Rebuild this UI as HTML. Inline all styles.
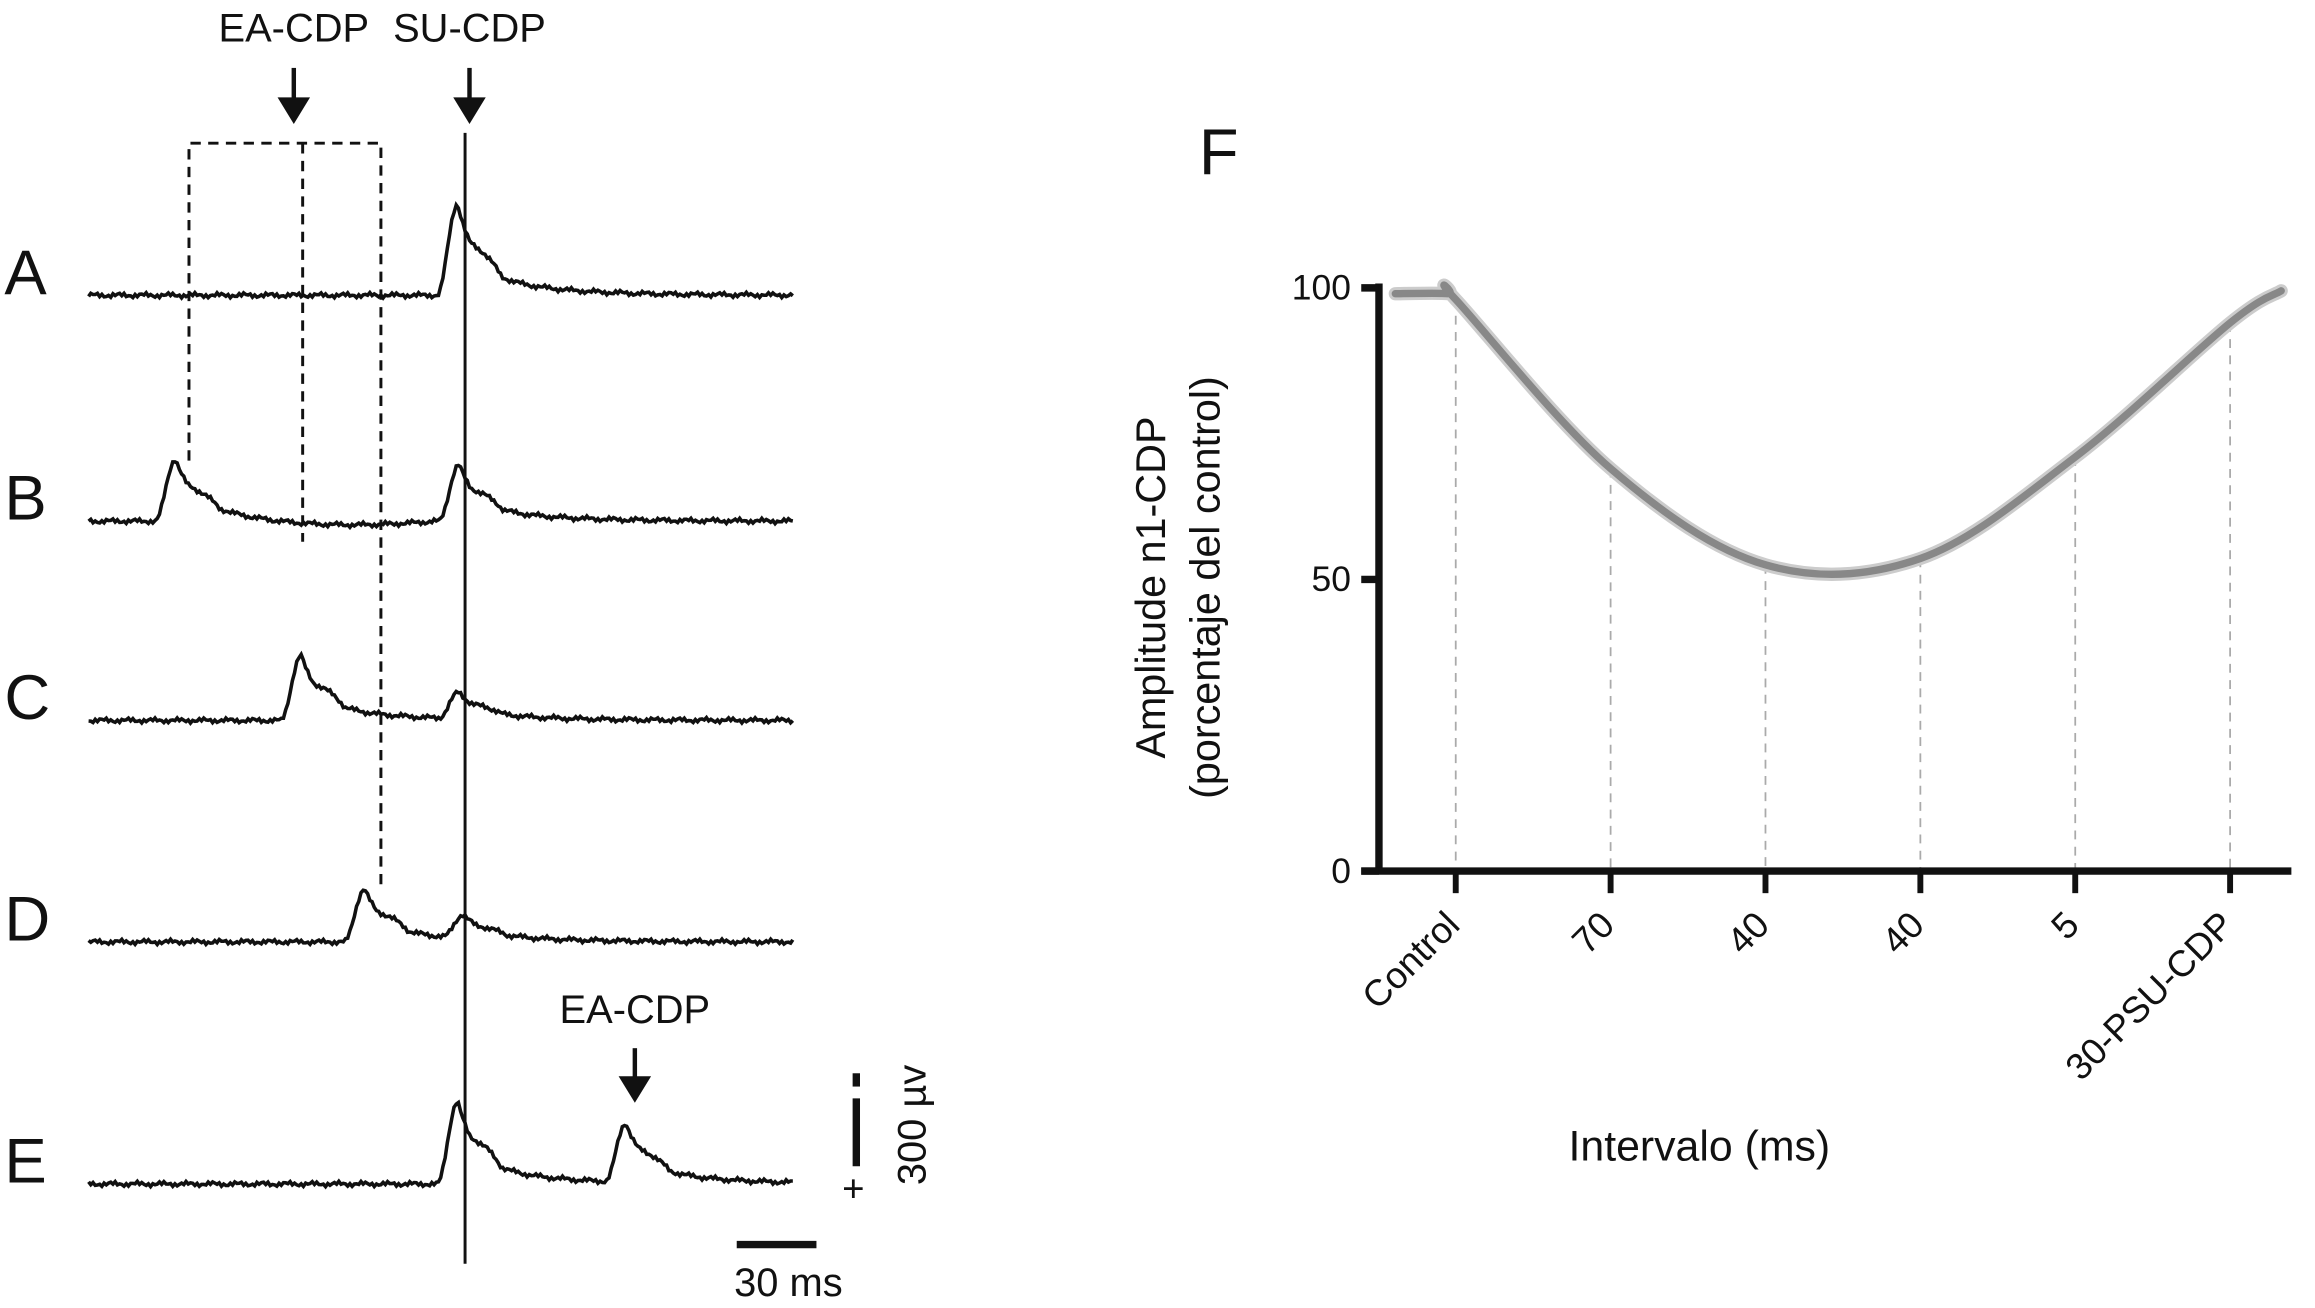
<!DOCTYPE html>
<html><head><meta charset="utf-8"><style>
html,body{margin:0;padding:0;background:#fff;}
svg{display:block;}
text{font-family:"Liberation Sans",sans-serif;fill:#111;}
</style></head><body>
<svg id="fig" width="2315" height="1308" viewBox="0 0 1568 886" preserveAspectRatio="none">
<g id="left"></g>
<g id="right"></g>
</svg>
<script>
// ---- left panel data (trace peaks: x position, peak height px) ----
const traceLabels = ["A","B","C","D","E"];
const traceBaselines = [200, 353, 488, 638, 802];
const traceEAPeakX = [null, 119, 204, 247, 424];
const traceEAPeakAmp = [0, 42, 44, 36, 40];
const traceSUPeakX = [310, 311, 311, 314, 310];
const traceSUPeakAmp = [62, 38, 18, 16, 56];
// ---- right chart data ----
const categories = ["Control","70","40","40","5","30-PSU-CDP"];
const values = [98, 69, 52.5, 53.6, 71, 94];
const startValue = 99, endValue = 99.5;
const yTicks = [0, 50, 100];

const NS = "http://www.w3.org/2000/svg";
function mk(tag, attrs, parent, txt){const e=document.createElementNS(NS,tag);for(const k in attrs)e.setAttribute(k,attrs[k]);if(txt!==undefined)e.textContent=txt;parent.appendChild(e);return e;}
const L = document.getElementById('left'), R = document.getElementById('right');

function wave(x, px, amp){ if(px===null||x<px-14) return 0; const d=x-px;
  if(d<0) return amp*Math.pow(Math.sin((d+14)/14*Math.PI/2),2);
  return amp*(0.7*Math.exp(-d/11)+0.3*Math.exp(-d/45)) + (d>8&&d<30? amp*0.12*Math.sin((d-8)/22*Math.PI):0); }
traceLabels.forEach((lab,i)=>{
  const t=mk('text',{x:3,y:traceBaselines[i]-1,'font-size':43},L,lab);
  
  
  let d='';
  for(let x=60;x<=537;x+=1.5){
    let y=traceBaselines[i]-wave(x,traceEAPeakX[i],traceEAPeakAmp[i])-wave(x,traceSUPeakX[i],traceSUPeakAmp[i]);
    y+=1.0*Math.sin(x*1.7+i)+0.8*Math.sin(x*0.37+i*2);
    if(i===1&&x>150&&x<300) y+=3.5*Math.sin((x-150)/150*Math.PI);
    d+=(d?'L':'M')+x.toFixed(1)+' '+y.toFixed(1);
  }
  const p=mk('path',{d:d,fill:'none',stroke:'#111','stroke-width':2.4},L);
  
  
});
mk('line',{x1:315,y1:90,x2:315,y2:856,stroke:'#111','stroke-width':2},L);
const dsh={stroke:'#111','stroke-width':2,'stroke-dasharray':'7 5',fill:'none'};
mk('path',Object.assign({d:'M128 312 V97 H258 V600 M205 97 V367'},dsh),L);
function arrow(x,y1,y2,label,ly){
  mk('line',{x1:x,y1:y1,x2:x,y2:y2-14,stroke:'#111','stroke-width':3},L);
  mk('polygon',{points:`${x-11},${y2-18} ${x+11},${y2-18} ${x},${y2}`,fill:'#111'},L);
  mk('text',{x:x,y:ly,'font-size':27,'text-anchor':'middle'},L,label);
}
arrow(199,46,84,'EA-CDP',28); arrow(318,46,84,'SU-CDP',28); arrow(430,710,747,'EA-CDP',693);
mk('line',{x1:580,y1:727,x2:580,y2:736,stroke:'#111','stroke-width':5},L);
mk('line',{x1:580,y1:744,x2:580,y2:790,stroke:'#111','stroke-width':5},L);
mk('text',{x:578,y:814,'font-size':26,'text-anchor':'middle'},L,'+');
mk('text',{x:0,y:0,'font-size':27,'text-anchor':'middle',transform:'translate(627,762) rotate(-90)'},L,'300 µv');
mk('line',{x1:499,y1:843,x2:553,y2:843,stroke:'#111','stroke-width':5},L);
mk('text',{x:534,y:878,'font-size':27,'text-anchor':'middle'},L,'30 ms');

// ---- right chart ----
const x0=986, dx=104.9, yBase=590, yPer=3.95;
const X=i=>x0+i*dx, Y=v=>yBase-v*yPer;
mk('text',{x:812,y:118,'font-size':44},R,'F');
categories.forEach((c,i)=>{
  const g=mk('line',{x1:X(i),y1:Y(values[i]),x2:X(i),y2:yBase,stroke:'#aaa','stroke-width':1.2,'stroke-dasharray':'6 5'},R);
  
  
  mk('line',{x1:X(i),y1:yBase,x2:X(i),y2:605,stroke:'#111','stroke-width':4},R);
  const t=mk('text',{x:0,y:0,'font-size':25,'text-anchor':'end',transform:`translate(${X(i)+4},628) rotate(-45)`},R,c);
  
  
});
const pts=[[X(-0.39),Y(startValue)],[X(-0.05),Y(startValue)]];
values.forEach((v,i)=>pts.push([X(i),Y(v)]));
pts.push([X(5.33),Y(endValue)]);
let d='M'+pts[0].join(' ');
for(let i=0;i<pts.length-1;i++){
  const p0=pts[Math.max(0,i-1)],p1=pts[i],p2=pts[i+1],p3=pts[Math.min(pts.length-1,i+2)];
  const c1=[p1[0]+(p2[0]-p0[0])/6,p1[1]+(p2[1]-p0[1])/6],c2=[p2[0]-(p3[0]-p1[0])/6,p2[1]-(p3[1]-p1[1])/6];
  d+=`C${c1[0].toFixed(1)} ${c1[1].toFixed(1)} ${c2[0].toFixed(1)} ${c2[1].toFixed(1)} ${p2[0].toFixed(1)} ${p2[1].toFixed(1)}`;
}
mk('path',{d:d,fill:'none',stroke:'#ccc','stroke-width':9,'stroke-linecap':'round'},R);
const cv=mk('path',{d:d,fill:'none',stroke:'#888','stroke-width':5,'stroke-linecap':'round'},R);


mk('line',{x1:934,y1:192,x2:934,y2:592,stroke:'#111','stroke-width':5},R);
mk('line',{x1:922,y1:yBase,x2:1552,y2:yBase,stroke:'#111','stroke-width':5},R);
yTicks.forEach(v=>{
  mk('line',{x1:922,y1:Y(v),x2:934,y2:Y(v),stroke:'#111','stroke-width':5},R);
  const t=mk('text',{x:915,y:Y(v)+8,'font-size':24,'text-anchor':'end'},R,String(v));
  
  
});
const yt=mk('text',{x:0,y:0,'font-size':28,'text-anchor':'middle',transform:'translate(789,398) rotate(-90)'},R,'Amplitude n1-CDP');


mk('text',{x:0,y:0,'font-size':28,'text-anchor':'middle',transform:'translate(826,398) rotate(-90)'},R,'(porcentaje del control)');
const xt=mk('text',{x:1151,y:786,'font-size':29,'text-anchor':'middle'},R,'Intervalo (ms)');


</script>
</body></html>
